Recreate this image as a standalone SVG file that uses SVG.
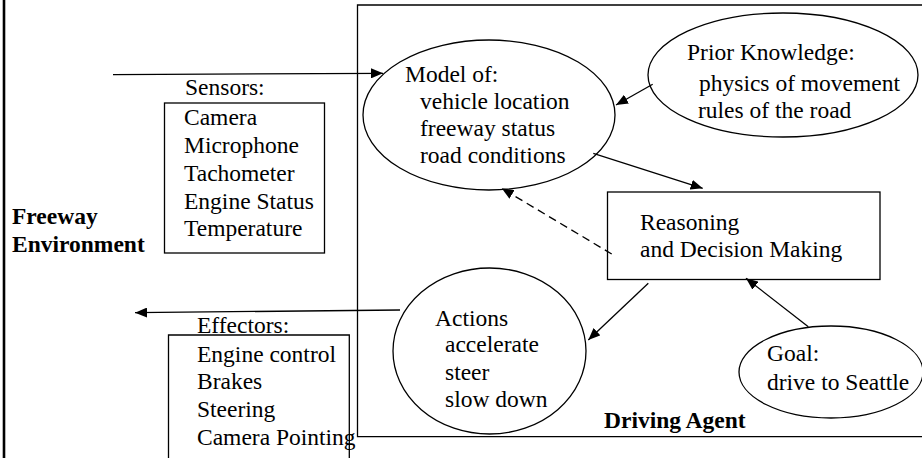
<svg xmlns="http://www.w3.org/2000/svg" width="922" height="458" viewBox="0 0 922 458">
<defs>
<marker id="ah" viewBox="0 0 12 10" refX="12" refY="5" markerWidth="12" markerHeight="10" markerUnits="userSpaceOnUse" orient="auto">
<path d="M0,0 L12,5 L0,10 z" fill="#000"/>
</marker>
<style>
.t{font-family:"Liberation Serif","Times New Roman",serif;font-size:23.5px;fill:#000}
.b{font-family:"Liberation Serif","Times New Roman",serif;font-size:23.5px;font-weight:bold;fill:#000}
.s{fill:none;stroke:#000;stroke-width:1.3}
.c{fill:none;stroke:#000;stroke-width:1.3;marker-end:url(#ah)}
</style>
</defs>
<rect width="922" height="458" fill="#fff"/>
<g id="environment">
<line x1="4" y1="0" x2="4" y2="458" stroke="#000" stroke-width="2.6"/>
<text class="b" x="12" y="224">Freeway</text>
<text class="b" x="12" y="252">Environment</text>
</g>
<g id="driving-agent">
<path class="s" d="M922,5 H357.5 V436.7 H922"/>
<text class="b" x="604" y="428">Driving Agent</text>
</g>
<g id="sensors">
<text class="t" x="185" y="95">Sensors:</text>
<rect class="s" x="164.5" y="103" width="160" height="150"/>
<text class="t" x="184" y="125">Camera</text>
<text class="t" x="184" y="153">Microphone</text>
<text class="t" x="184" y="181">Tachometer</text>
<text class="t" x="184" y="209">Engine Status</text>
<text class="t" x="184" y="236">Temperature</text>
</g>
<g id="effectors">
<text class="t" x="197" y="333">Effectors:</text>
<path class="s" d="M168.5,460 V335 H349.3 V460"/>
<text class="t" x="197" y="362">Engine control</text>
<text class="t" x="197" y="389">Brakes</text>
<text class="t" x="197" y="417">Steering</text>
<text class="t" x="197" y="445">Camera Pointing</text>
</g>
<g id="model">
<ellipse class="s" cx="489" cy="115" rx="126" ry="75"/>
<text class="t" x="405" y="82">Model of:</text>
<text class="t" x="420" y="109">vehicle location</text>
<text class="t" x="420" y="136">freeway status</text>
<text class="t" x="420" y="163">road conditions</text>
</g>
<g id="prior-knowledge">
<ellipse class="s" cx="783" cy="75" rx="135" ry="62"/>
<text class="t" x="687" y="60">Prior Knowledge:</text>
<text class="t" x="699" y="91">physics of movement</text>
<text class="t" x="698" y="118">rules of the road</text>
</g>
<g id="reasoning">
<rect class="s" x="607.5" y="192" width="272.5" height="87.5"/>
<text class="t" x="640" y="230">Reasoning</text>
<text class="t" x="640" y="257">and Decision Making</text>
</g>
<g id="actions">
<ellipse class="s" cx="489.5" cy="351" rx="96.5" ry="83"/>
<text class="t" x="435" y="326">Actions</text>
<text class="t" x="445" y="352">accelerate</text>
<text class="t" x="445" y="380">steer</text>
<text class="t" x="445" y="407">slow down</text>
</g>
<g id="goal">
<ellipse class="s" cx="831" cy="372" rx="92" ry="46"/>
<text class="t" x="767" y="361">Goal:</text>
<text class="t" x="767" y="390">drive to Seattle</text>
</g>
<g id="connectors">
<line class="c" x1="113" y1="74.7" x2="383" y2="73.3"/>
<line class="c" x1="400" y1="310" x2="135" y2="312.7"/>
<line class="c" x1="652.7" y1="84.3" x2="616" y2="105"/>
<line class="c" x1="593.3" y1="153.3" x2="702.7" y2="188.3"/>
<line class="c" x1="611.7" y1="254" x2="501.7" y2="188.3" stroke-dasharray="8,5"/>
<line class="c" x1="648.3" y1="283.3" x2="588.3" y2="340"/>
<line class="c" x1="808.3" y1="326.7" x2="746" y2="278.3"/>
</g>
</svg>
